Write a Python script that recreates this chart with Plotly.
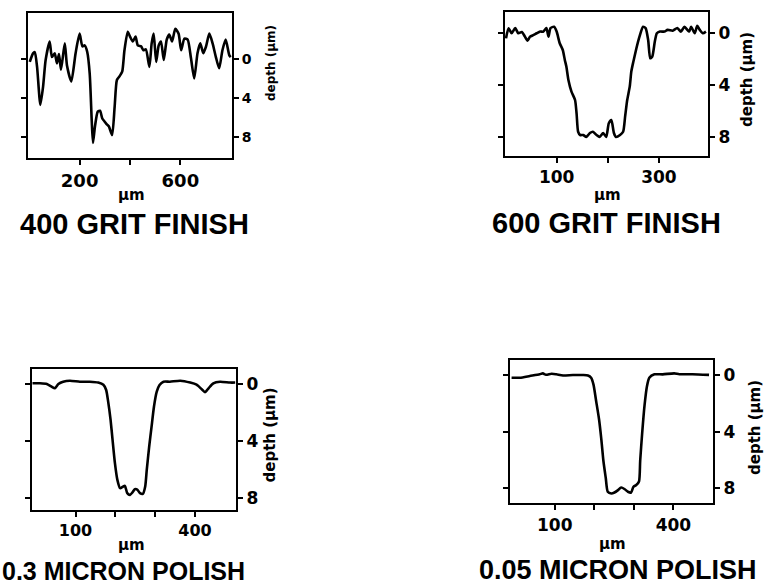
import plotly.graph_objects as go

W, H = 780, 584

# ---- data (µm, depth µm) ----
x400 = [2, 15, 22, 31, 44, 55, 65, 81, 90, 101, 110, 118, 126, 141, 150, 167, 184, 200, 211, 220, 230,
        240, 248, 253, 261, 272, 281, 290, 299, 308, 316, 329, 339, 348, 359, 369, 378, 391, 400, 411,
        422, 431, 444, 453, 463, 477, 486, 494, 504, 514, 523, 534, 546, 556, 567, 580, 593, 603, 616,
        629, 642, 655, 668, 679, 691, 702, 715, 728, 741, 754, 767, 780, 794, 800]
d400 = [0.3, -0.58, -0.7, 0.8, 4.7, 2.8, 0.1, -1.8, -0.2, -0.6, 0.45, -0.5, 1.1, -1.6, 0.7, 2.3, -0.6,
        -2.6, -1.3, -1.4, -0.75, 1.5, 6.3, 8.6, 6.9, 5.4, 5.3, 6.1, 6.4, 6.7, 6.9, 7.8, 4.9, 2.15, 1.75,
        1.3, -0.9, -2.8, -2.3, -1.8, -2.3, -1.4, -1.3, -0.9, -1.0, 0.8, -1.6, -2.6, 0.3, -1.4, -1.8, 0.1,
        -2.0, -2.5, -1.8, -3.1, -2.6, -0.9, -2.1, -2.0, -0.1, 2.0, -0.6, -1.6, -0.6, -1.3, -2.6, -1.6,
        -0.2, 0.95, -0.9, -2.0, -0.4, -0.2]

x600 = [1, 6, 12, 19, 25, 32, 38, 43, 48, 55, 61, 68, 74, 80, 84, 88, 95, 100, 106, 112, 116, 119, 123,
        129, 136, 139, 142, 146, 152, 158, 165, 171, 178, 184, 191, 197, 202, 207, 212, 216, 224, 230,
        234, 238, 243, 246, 250, 256, 262, 269, 274, 279, 283, 287, 292, 296, 302, 311, 317, 327, 336,
        343, 350, 359, 363, 370, 375, 380, 386, 392]
d600 = [0.39, -0.39, 0.0, -0.4, 0.0, -0.1, 0.26, 0.57, 0.26, 0.13, 0.0, -0.13, -0.13, -0.4, 0.26, -0.4,
        -0.5, -0.13, 0.77, 1.29, 2.06, 2.57, 3.6, 4.5, 5.15, 6.2, 7.6, 7.85, 7.85, 8.0, 7.7, 7.6, 7.85,
        8.0, 7.7, 8.0, 6.94, 6.7, 7.7, 8.0, 7.85, 7.6, 6.4, 5.15, 4.1, 2.96, 2.19, 1.16, 0.26, -0.5, -0.4,
        0.52, 1.93, 1.8, 0.64, 0.0, -0.13, -0.13, -0.26, -0.2, -0.4, -0.13, -0.5, -0.13, -0.5, 0.0, -0.57,
        -0.26, 0.0, -0.13]

x03 = [-8, 11, 28, 40, 48, 57, 69, 86, 111, 136, 157, 170, 177, 182, 188, 193, 199, 205, 212, 219, 224,
       230, 237, 243, 249, 255, 262, 269, 275, 279, 285, 291, 297, 304, 311, 321, 337, 363, 388, 404,
       417, 425, 434, 446, 463, 488, 501]
d03 = [-0.05, -0.05, 0.0, 0.19, 0.3, 0.0, -0.16, -0.23, -0.16, -0.16, -0.1, 0.05, 0.42, 1.24, 2.5, 3.9,
       5.55, 6.7, 7.3, 7.2, 7.14, 7.65, 7.77, 7.6, 7.37, 7.4, 7.65, 7.7, 7.18, 6.0, 4.39, 2.99, 1.59,
       0.54, 0.07, -0.16, -0.16, -0.23, -0.1, 0.05, 0.37, 0.58, 0.3, -0.05, -0.16, -0.1, -0.1]

x005 = [-9, 12, 37, 62, 70, 78, 92, 104, 121, 146, 171, 184, 192, 198, 205, 212, 218, 223, 229, 234, 243,
        251, 260, 268, 277, 285, 293, 299, 306, 313, 316, 321, 327, 333, 339, 352, 373, 402, 415, 448, 490]
d005 = [0.16, 0.16, 0.04, -0.08, -0.15, -0.05, -0.12, -0.08, 0.0, -0.03, -0.03, 0.0, 0.16, 0.65, 1.88,
        3.12, 4.6, 6.07, 7.3, 8.28, 8.4, 8.33, 8.16, 7.98, 8.1, 8.28, 8.33, 7.92, 7.8, 7.55, 6.07, 4.1,
        2.13, 0.78, 0.16, -0.08, -0.08, -0.15, -0.09, -0.09, -0.04]

titles = ["400 GRIT FINISH", "600 GRIT FINISH", "0.3 MICRON POLISH", "0.05 MICRON POLISH"]
x_tickvals = [[200, 400, 600], [100, 200, 300], [100, 200, 300, 400], [100, 200, 300, 400]]
x_ticktext = [["200", "", "600"], ["100", "", "300"], ["100", "", "", "400"], ["100", "", "", "400"]]
y_tickvals = [0, 4, 8]
y_ticktext = ["0", "4", "8"]
x_label = "µm"
y_label = "depth (µm)"

# ---- layout geometry (pixels) ----
boxes = [  # left, right, top, bottom
    (28, 232, 13, 158),
    (505, 708, 11.5, 156),
    (31.7, 236, 369, 510),
    (510, 713, 360, 503.3),
]
xranges = [[-5, 805], [-1, 396], [-10, 503], [-13, 500]]
yranges = [[10.15, -4.72], [9.47, -1.68], [8.83, -1.05], [9.1, -1.1]]
xs = [x400, x600, x03, x005]
ds = [d400, d600, d03, d005]

TICKFONT = "DejaVu Sans"
TITLEFONT = "Liberation Sans"

fig = go.Figure()
layout = dict(width=W, height=H, autosize=False, margin=dict(l=0, r=0, t=0, b=0),
              paper_bgcolor="white", plot_bgcolor="white", showlegend=False)

ytick_sizes = [14, 17, 17, 17]
xtick_sizes = [18, 17, 16, 17]
for i in range(4):
    k = "" if i == 0 else str(i + 1)
    l, r, t, b = boxes[i]
    fig.add_trace(go.Scatter(x=xs[i], y=ds[i], mode="lines",
                             line=dict(color="black", width=2.6, shape="spline", smoothing=0.6),
                             xaxis="x" + k, yaxis="y" + k, hoverinfo="skip"))
    layout["xaxis" + k] = dict(domain=[l / W, r / W], range=xranges[i], anchor="y" + k,
                               showline=True, linecolor="black", linewidth=2, mirror=True,
                               showgrid=False, zeroline=False, ticks="outside", ticklen=5,
                               tickwidth=2, tickcolor="black", tickvals=x_tickvals[i],
                               ticktext=["<b>%s</b>" % s if s else "" for s in x_ticktext[i]],
                               tickfont=dict(family=TICKFONT, size=xtick_sizes[i], color="black"))
    layout["yaxis" + k] = dict(domain=[1 - b / H, 1 - t / H], range=yranges[i], anchor="x" + k,
                               side="right", showline=True, linecolor="black", linewidth=2,
                               mirror="ticks", showgrid=False, zeroline=False, ticks="outside",
                               ticklen=5, tickwidth=2, tickcolor="black", tickvals=y_tickvals,
                               ticktext=["<b>%s</b>" % s for s in y_ticktext],
                               tickfont=dict(family=TICKFONT, size=ytick_sizes[i], color="black"))

annotations = []
ylab_pos = [(271, 63, 12), (747, 80, 15), (269.5, 435, 15), (754.5, 427.5, 15)]
xlab_pos = [(131, 195), (607, 195), (131, 545), (612, 544)]
title_pos = [(134, 223.5, 29), (606, 222.5, 29), (124, 571, 25), (618, 570, 27)]
for i in range(4):
    px, py, fs = ylab_pos[i]
    annotations.append(dict(text="<b>%s</b>" % y_label, x=px / W, y=1 - py / H, xref="paper", yref="paper",
                            textangle=-90, showarrow=False, xanchor="center", yanchor="middle",
                            font=dict(family=TICKFONT, size=fs, color="black")))
    px, py = xlab_pos[i]
    annotations.append(dict(text="<b>%s</b>" % x_label, x=px / W, y=1 - py / H, xref="paper", yref="paper",
                            showarrow=False, xanchor="center", yanchor="middle",
                            font=dict(family=TICKFONT, size=15, color="black")))
    px, py, fs = title_pos[i]
    annotations.append(dict(text="<b>%s</b>" % titles[i], x=px / W, y=1 - py / H, xref="paper", yref="paper",
                            showarrow=False, xanchor="center", yanchor="middle",
                            font=dict(family=TITLEFONT, size=fs, color="black")))
layout["annotations"] = annotations

fig.update_layout(**layout)
fig.write_html("out.html", config={"displayModeBar": False},
               post_script="document.body.style.margin='0';document.body.style.overflow='hidden';")
